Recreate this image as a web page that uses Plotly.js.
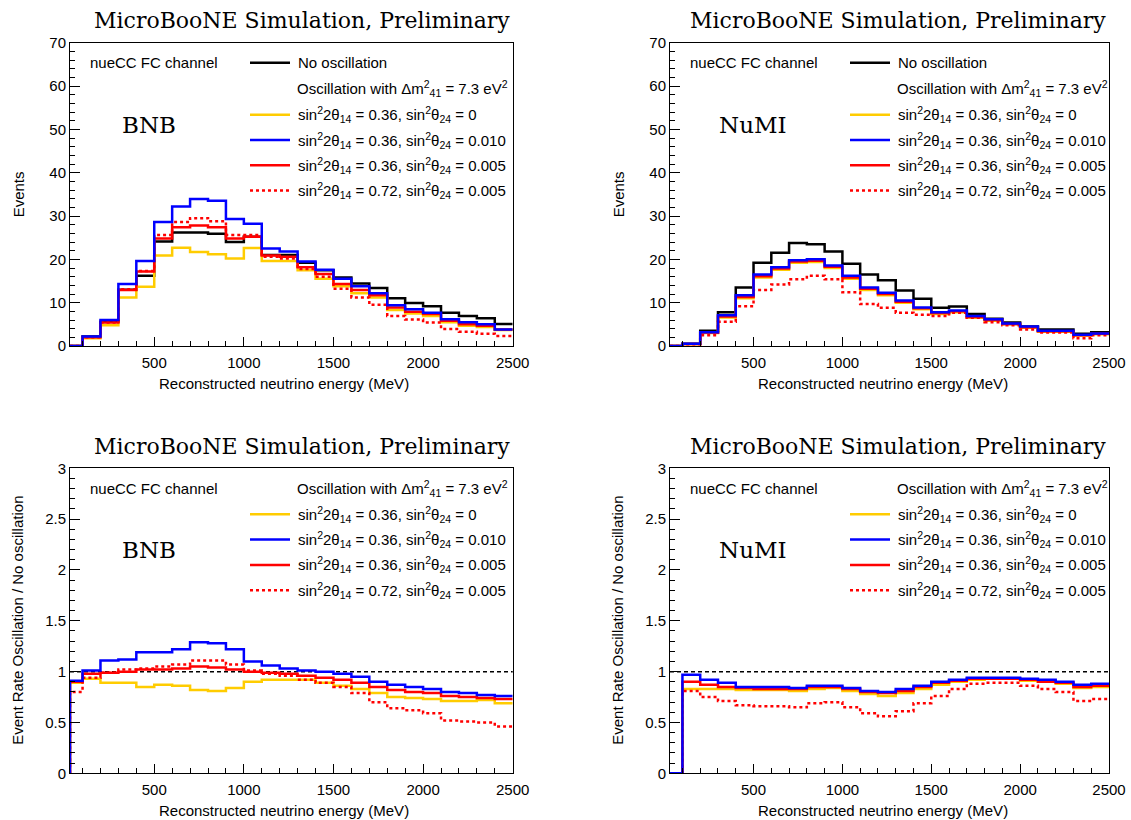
<!DOCTYPE html>
<html>
<head>
<meta charset="utf-8">
<script src="https://cdn.plot.ly/plotly-3.0.1.min.js"></script>
<style>
  html, body { margin: 0; padding: 0; background: #fff; }
  #chart { width: 1131px; height: 820px; }
</style>
</head>
<body>
<div id="chart"></div>
<script>
// Reconstructed neutrino energy bins (MeV), 100 MeV wide
const binEdges = [0, 100, 200, 300, 400, 500, 600, 700, 800, 900, 1000, 1100, 1200,
  1300, 1400, 1500, 1600, 1700, 1800, 1900, 2000, 2100, 2200, 2300, 2400, 2500];
const energyRange = [30, 2500];

// BNB event counts
const bnbNoOsc   = [0, 2.2, 5.6, 13.0, 16.2, 24.1, 26.2, 26.2, 25.9, 24.0, 25.2, 21.0, 21.0, 19.2, 17.5, 15.8, 14.4, 13.4, 11.0, 9.9, 9.2, 7.7, 6.9, 6.4, 5.1];
const bnbYellow  = [0, 1.8, 4.8, 11.2, 13.7, 20.9, 22.7, 21.7, 21.2, 20.2, 22.6, 19.6, 19.6, 17.5, 15.5, 13.8, 12.2, 11.2, 8.3, 7.5, 6.9, 5.5, 4.7, 4.4, 3.7];
const bnbBlue    = [0, 2.2, 6.0, 14.3, 19.6, 28.6, 32.2, 33.9, 33.5, 29.3, 28.2, 22.5, 21.8, 19.5, 17.6, 15.5, 13.8, 12.2, 9.4, 8.5, 7.7, 6.2, 5.5, 5.0, 3.8];
const bnbRed     = [0, 2.0, 5.4, 12.9, 17.2, 24.8, 27.4, 27.8, 27.4, 24.8, 25.2, 20.9, 20.6, 18.2, 16.6, 14.3, 12.9, 11.7, 8.9, 7.9, 7.4, 5.8, 5.0, 4.7, 3.8];
const bnbRedDot  = [0, 2.0, 5.4, 13.1, 17.3, 25.6, 28.6, 29.5, 28.8, 25.6, 25.6, 20.6, 20.2, 17.8, 16.0, 13.2, 11.2, 9.5, 6.9, 6.1, 5.4, 3.9, 3.3, 2.8, 2.3];

// NuMI event counts
const numiNoOsc  = [0, 0.5, 3.5, 7.8, 13.5, 19.2, 21.5, 23.8, 23.5, 21.8, 19.0, 16.5, 15.2, 12.8, 10.9, 8.8, 9.1, 7.4, 6.3, 5.4, 4.5, 3.8, 3.8, 2.8, 3.2];
const numiYellow = [0, 0.4, 3.0, 6.6, 11.0, 15.8, 17.6, 19.2, 19.4, 18.0, 15.5, 12.9, 11.7, 10.0, 8.5, 7.4, 7.8, 6.5, 5.8, 5.0, 4.2, 3.3, 3.3, 2.4, 2.7];
const numiBlue   = [0, 0.5, 3.2, 7.1, 11.7, 16.5, 18.2, 19.8, 20.0, 18.6, 16.2, 13.5, 12.3, 10.5, 8.9, 7.8, 8.2, 6.9, 6.2, 5.2, 4.5, 3.5, 3.5, 2.6, 2.9];
const numiRed    = [0, 0.45, 3.1, 6.8, 11.3, 16.1, 17.9, 19.5, 19.7, 18.3, 15.8, 13.2, 12.0, 10.2, 8.7, 7.6, 8.0, 6.7, 6.0, 5.1, 4.3, 3.4, 3.4, 2.5, 2.8];
const numiRedDot = [0, 0.4, 2.5, 5.6, 9.2, 12.9, 14.2, 15.4, 16.2, 15.4, 12.4, 9.7, 8.8, 7.7, 7.2, 6.9, 7.7, 6.5, 5.5, 4.8, 3.8, 3.1, 3.1, 1.8, 2.5];

// BNB ratio oscillation / no oscillation
const bnbRatioYellow = [0.89, 0.93, 0.89, 0.89, 0.85, 0.87, 0.86, 0.82, 0.81, 0.84, 0.90, 0.92, 0.92, 0.92, 0.89, 0.86, 0.83, 0.79, 0.75, 0.74, 0.73, 0.71, 0.71, 0.72, 0.69];
const bnbRatioBlue   = [0.91, 1.01, 1.11, 1.12, 1.19, 1.19, 1.22, 1.29, 1.28, 1.22, 1.10, 1.06, 1.03, 1.01, 1.00, 0.98, 0.95, 0.90, 0.87, 0.85, 0.83, 0.80, 0.79, 0.77, 0.76];
const bnbRatioRed    = [0.90, 0.98, 0.99, 1.00, 1.02, 1.02, 1.03, 1.05, 1.04, 1.02, 1.00, 0.99, 0.98, 0.96, 0.94, 0.92, 0.89, 0.85, 0.82, 0.80, 0.79, 0.76, 0.75, 0.74, 0.73];
const bnbRatioRedDot = [0.80, 0.94, 0.99, 1.02, 1.03, 1.05, 1.07, 1.11, 1.11, 1.07, 1.01, 0.98, 0.96, 0.92, 0.89, 0.85, 0.79, 0.70, 0.64, 0.62, 0.59, 0.52, 0.51, 0.50, 0.46];

// NuMI ratio oscillation / no oscillation
const numiRatioYellow = [0, 0.83, 0.83, 0.83, 0.82, 0.82, 0.82, 0.81, 0.83, 0.84, 0.81, 0.78, 0.76, 0.79, 0.83, 0.87, 0.90, 0.92, 0.93, 0.93, 0.91, 0.90, 0.88, 0.84, 0.85];
const numiRatioBlue   = [0, 0.97, 0.92, 0.89, 0.85, 0.85, 0.85, 0.84, 0.86, 0.86, 0.84, 0.81, 0.80, 0.83, 0.86, 0.90, 0.92, 0.94, 0.94, 0.94, 0.93, 0.92, 0.90, 0.87, 0.88];
const numiRatioRed    = [0, 0.90, 0.87, 0.85, 0.84, 0.83, 0.83, 0.83, 0.85, 0.85, 0.83, 0.80, 0.79, 0.81, 0.85, 0.89, 0.91, 0.93, 0.93, 0.93, 0.92, 0.90, 0.89, 0.85, 0.86];
const numiRatioRedDot = [0, 0.81, 0.75, 0.71, 0.67, 0.66, 0.66, 0.65, 0.69, 0.70, 0.65, 0.59, 0.56, 0.61, 0.69, 0.76, 0.83, 0.88, 0.89, 0.89, 0.86, 0.83, 0.80, 0.71, 0.73];

const seriesLabels = [
  'sin<sup>2</sup>2θ<sub>14</sub> = 0.36, sin<sup>2</sup>θ<sub>24</sub> = 0',
  'sin<sup>2</sup>2θ<sub>14</sub> = 0.36, sin<sup>2</sup>θ<sub>24</sub> = 0.010',
  'sin<sup>2</sup>2θ<sub>14</sub> = 0.36, sin<sup>2</sup>θ<sub>24</sub> = 0.005',
  'sin<sup>2</sup>2θ<sub>14</sub> = 0.72, sin<sup>2</sup>θ<sub>24</sub> = 0.005'
];

const COL = { black: '#000000', yellow: '#ffcc00', blue: '#0000ff', red: '#ff0000' };
const SANS = 'Liberation Sans, Arial, sans-serif';
const SERIF = 'DejaVu Serif, serif';
const TEXT_SIZE = 15;

// ROOT-style step outline: starts at zero on the left frame edge
function stepTrace(values, xa, ya, color, dash) {
  const x0 = Math.max(binEdges[0], energyRange[0]);
  const xs = [x0], ys = [0];
  for (let i = 0; i < values.length; i++) {
    xs.push(Math.max(binEdges[i], x0));
    ys.push(values[i]);
  }
  xs.push(binEdges[binEdges.length - 1]);
  ys.push(values[values.length - 1]);
  return {
    type: 'scatter', mode: 'lines', x: xs, y: ys, xaxis: xa, yaxis: ya,
    line: { shape: 'hv', color: color, width: 2.5, dash: dash || 'solid' },
    hoverinfo: 'skip', showlegend: false, cliponaxis: true
  };
}

const traces = [
  // BNB events
  stepTrace(bnbNoOsc, 'x', 'y', COL.black),
  stepTrace(bnbYellow, 'x', 'y', COL.yellow),
  stepTrace(bnbRed, 'x', 'y', COL.red),
  stepTrace(bnbRedDot, 'x', 'y', COL.red, 'dot'),
  stepTrace(bnbBlue, 'x', 'y', COL.blue),
  // NuMI events
  stepTrace(numiNoOsc, 'x2', 'y2', COL.black),
  stepTrace(numiYellow, 'x2', 'y2', COL.yellow),
  stepTrace(numiRed, 'x2', 'y2', COL.red),
  stepTrace(numiRedDot, 'x2', 'y2', COL.red, 'dot'),
  stepTrace(numiBlue, 'x2', 'y2', COL.blue),
  // BNB ratio
  stepTrace(bnbRatioYellow, 'x3', 'y3', COL.yellow),
  stepTrace(bnbRatioRed, 'x3', 'y3', COL.red),
  stepTrace(bnbRatioRedDot, 'x3', 'y3', COL.red, 'dot'),
  stepTrace(bnbRatioBlue, 'x3', 'y3', COL.blue),
  // NuMI ratio
  stepTrace(numiRatioYellow, 'x4', 'y4', COL.yellow),
  stepTrace(numiRatioRed, 'x4', 'y4', COL.red),
  stepTrace(numiRatioRedDot, 'x4', 'y4', COL.red, 'dot'),
  stepTrace(numiRatioBlue, 'x4', 'y4', COL.blue)
];

const W = 1131, H = 820;
const px = v => v / W;
const py = v => 1 - v / H;

function xAxis(domain, anchor) {
  return {
    domain: domain, anchor: anchor, range: energyRange,
    tick0: 0, dtick: 500, ticks: 'inside', ticklen: 9, tickwidth: 1, tickcolor: '#000',
    minor: { dtick: 100, ticks: 'inside', ticklen: 5, tickwidth: 1, tickcolor: '#000' },
    showline: true, linecolor: '#000', linewidth: 1, mirror: true,
    showgrid: false, zeroline: false, ticklabelstandoff: 3,
    tickfont: { family: SANS, size: 15, color: '#000' }
  };
}
function yAxis(domain, anchor, range, dtick, minorDtick) {
  return {
    domain: domain, anchor: anchor, range: range,
    tick0: 0, dtick: dtick, ticks: 'inside', ticklen: 10, tickwidth: 1, tickcolor: '#000',
    minor: { dtick: minorDtick, ticks: 'inside', ticklen: 5, tickwidth: 1, tickcolor: '#000' },
    showline: true, linecolor: '#000', linewidth: 1, mirror: true,
    showgrid: false, zeroline: false,
    tickfont: { family: SANS, size: 15, color: '#000' }
  };
}

const xLeft = [px(70), px(512.7)];
const xRight = [px(670), px(1109)];
const yTop = [py(346), py(42.7)];
const yBottom = [py(773.3), py(468.3)];

const annotations = [];
const shapes = [];

function txt(x, y, text, opts) {
  annotations.push(Object.assign({
    xref: 'paper', yref: 'paper', x: px(x), y: py(y), text: text, showarrow: false,
    xanchor: 'left', yanchor: 'middle',
    font: { family: SANS, size: TEXT_SIZE, color: '#000' }
  }, opts || {}));
}
function keyLine(x1, x2, y, color, dash) {
  shapes.push({ type: 'line', xref: 'paper', yref: 'paper',
    x0: px(x1), x1: px(x2), y0: py(y), y1: py(y),
    line: { color: color, width: 2.5, dash: dash || 'solid' } });
}

// Panel decorations
const panels = [
  { left: 70, right: 512.7, top: 42.7, bottom: 346, beam: 'BNB', ratio: false },
  { left: 670, right: 1109, top: 42.7, bottom: 346, beam: 'NuMI', ratio: false },
  { left: 70, right: 512.7, top: 468.3, bottom: 773.3, beam: 'BNB', ratio: true },
  { left: 670, right: 1109, top: 468.3, bottom: 773.3, beam: 'NuMI', ratio: true }
];

panels.forEach(p => {
  txt(p.right - 1, p.top - 22, 'MicroBooNE Simulation, Preliminary',
    { xanchor: 'right', font: { family: SERIF, size: 22, color: '#000' } });
  txt(p.left + 18, p.top + 20, 'nueCC FC channel');
  txt(p.left + (p.beam === 'NuMI' ? 47 : 50), p.top + 82, p.beam,
    { font: { family: SERIF, size: 23, color: '#000' } });
  const lx1 = p.left + 180, lx2 = p.left + 220, tx = p.left + 226;
  let row = p.top + 20;
  if (!p.ratio) {
    keyLine(lx1, lx2, row, COL.black);
    txt(tx, row, 'No oscillation');
    row += 26;
  }
  txt(tx - 1, row, 'Oscillation with Δm<sup>2</sup><sub>41</sub> = 7.3 eV<sup>2</sup>');
  row += 26;
  const keyCols = [COL.yellow, COL.blue, COL.red, COL.red];
  const keyDash = ['solid', 'solid', 'solid', 'dot'];
  seriesLabels.forEach((lab, i) => {
    keyLine(lx1, lx2, row, keyCols[i], keyDash[i]);
    txt(tx, row, lab);
    row += 25.3;
  });
  // axis titles
  txt((p.left + p.right) / 2 - 7, p.bottom + 37, 'Reconstructed neutrino energy (MeV)',
    { xanchor: 'center', font: { family: SANS, size: 15, color: '#000' } });
  txt(18, (p.top + p.bottom) / 2, p.ratio ? 'Event Rate Oscillation / No oscillation' : 'Events',
    { xanchor: 'center', textangle: -90, font: { family: SANS, size: 15, color: '#000' },
      x: px(p.left - 52) });
});

// unity reference in ratio panels
[['x3', 'y3'], ['x4', 'y4']].forEach(([xa, ya]) => {
  shapes.push({ type: 'line', xref: xa + ' domain', yref: ya, x0: 0, x1: 1, y0: 1, y1: 1,
    line: { color: '#000', width: 1.5, dash: '4px,3px' }, layer: 'below' });
});

const layout = {
  width: W, height: H,
  margin: { l: 0, r: 0, t: 0, b: 0 },
  paper_bgcolor: '#fff', plot_bgcolor: '#fff',
  showlegend: false,
  xaxis: xAxis(xLeft, 'y'),
  yaxis: yAxis(yTop, 'x', [0, 70], 10, 2),
  xaxis2: xAxis(xRight, 'y2'),
  yaxis2: yAxis(yTop, 'x2', [0, 70], 10, 2),
  xaxis3: xAxis(xLeft, 'y3'),
  yaxis3: yAxis(yBottom, 'x3', [0, 3], 0.5, 0.1),
  xaxis4: xAxis(xRight, 'y4'),
  yaxis4: yAxis(yBottom, 'x4', [0, 3], 0.5, 0.1),
  annotations: annotations,
  shapes: shapes
};

Plotly.newPlot('chart', traces, layout, { staticPlot: true, displayModeBar: false });
</script>
</body>
</html>
